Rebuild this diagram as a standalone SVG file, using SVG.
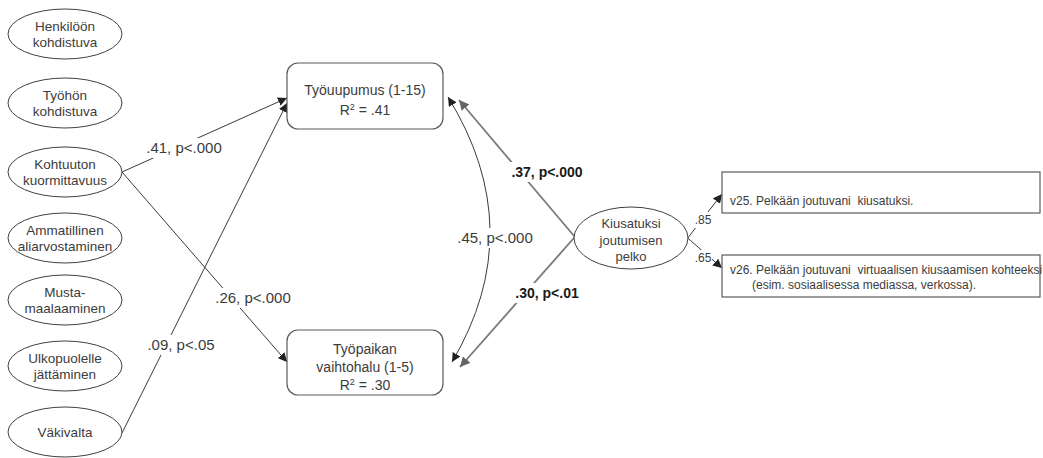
<svg xmlns="http://www.w3.org/2000/svg" width="1043" height="458" viewBox="0 0 1043 458">
<defs>
<style>
text{font-family:"Liberation Sans",Arial,sans-serif;fill:#3c3c3c}
.el{fill:#fff;stroke:#404040;stroke-width:1}
.bx{fill:#fff;stroke:#5a5a5a;stroke-width:1.2}
.rb{fill:#fff;stroke:#5a5a5a;stroke-width:1.2}
.t14{font-size:14px;text-anchor:middle}
.te{font-size:13.5px;text-anchor:middle}
.t13{font-size:13px;text-anchor:middle}
.t12{font-size:12px}
.lbl{font-size:15px;text-anchor:middle}
.bl{font-size:14px;font-weight:bold;text-anchor:middle;fill:#1a1a1a}
.ln{fill:none;stroke:#3a3a3a;stroke-width:1}
.lg{fill:none;stroke:#7a7a7a;stroke-width:1.8}
.bg{fill:#fff;stroke:none}
</style>
<marker id="ah" viewBox="0 0 10 10" refX="10" refY="5" markerWidth="9" markerHeight="9" markerUnits="userSpaceOnUse" orient="auto-start-reverse">
<path d="M0,0 L10,5 L0,10 z" fill="#222"/>
</marker>
<marker id="ahg" viewBox="0 0 10 10" refX="10" refY="5" markerWidth="10" markerHeight="10" markerUnits="userSpaceOnUse" orient="auto">
<path d="M0,0 L10,5 L0,10 z" fill="#666"/>
</marker>
</defs>
<rect width="1043" height="458" fill="#fff"/>

<g id="connectors">
<line class="ln" x1="122" y1="172" x2="287" y2="98" marker-end="url(#ah)"/>
<line class="ln" x1="122" y1="433" x2="287" y2="103" marker-end="url(#ah)"/>
<line class="ln" x1="122" y1="172" x2="287" y2="362" marker-end="url(#ah)"/>
<path class="ln" d="M448,97 Q530,230 452,362" marker-start="url(#ah)" marker-end="url(#ah)"/>
<line class="lg" x1="580" y1="243" x2="459" y2="100" marker-end="url(#ahg)"/>
<line class="lg" x1="581" y1="230" x2="460" y2="367" marker-end="url(#ahg)"/>
<line class="ln" x1="683" y1="244" x2="722" y2="194" marker-end="url(#ah)"/>
<line class="ln" x1="682" y1="233" x2="722" y2="268" marker-end="url(#ah)"/>
<g id="labels">
<rect class="bg" x="146" y="138" width="76" height="20"/>
<text class="lbl" x="184" y="153">.41, p&lt;.000</text>
<rect class="bg" x="215" y="288" width="76" height="20"/>
<text class="lbl" x="253" y="303">.26, p&lt;.000</text>
<rect class="bg" x="147" y="335" width="68" height="20"/>
<text class="lbl" x="181" y="350">.09, p&lt;.05</text>
<rect class="bg" x="457" y="228" width="76" height="20"/>
<text class="lbl" x="495" y="243">.45, p&lt;.000</text>
<rect class="bg" x="509" y="162" width="76" height="20"/>
<text class="bl" x="547" y="177">.37, p&lt;.000</text>
<rect class="bg" x="512" y="283" width="70" height="20"/>
<text class="bl" x="547" y="298">.30, p&lt;.01</text>
<rect class="bg" x="694" y="212" width="18" height="16"/>
<text class="t12" x="703" y="224" text-anchor="middle">.85</text>
<rect class="bg" x="694" y="250" width="18" height="16"/>
<text class="t12" x="703" y="262" text-anchor="middle">.65</text>
</g>
</g>

<g id="n-henkiloon"><ellipse class="el" cx="65" cy="34" rx="57" ry="25"/><text class="te" x="65" y="31">Henkilöön</text><text class="te" x="65" y="47">kohdistuva</text></g>
<g id="n-tyohon"><ellipse class="el" cx="65" cy="103" rx="57" ry="25"/><text class="te" x="65" y="100">Työhön</text><text class="te" x="65" y="116">kohdistuva</text></g>
<g id="n-kohtuuton"><ellipse class="el" cx="65" cy="172" rx="57" ry="25"/><text class="te" x="65" y="169">Kohtuuton</text><text class="te" x="65" y="185">kuormittavuus</text></g>
<g id="n-ammatillinen"><ellipse class="el" cx="65" cy="238" rx="57" ry="25"/><text class="te" x="65" y="235">Ammatillinen</text><text class="te" x="65" y="251">aliarvostaminen</text></g>
<g id="n-musta"><ellipse class="el" cx="65" cy="300" rx="57" ry="25"/><text class="te" x="65" y="297">Musta-</text><text class="te" x="65" y="313">maalaaminen</text></g>
<g id="n-ulkopuolelle"><ellipse class="el" cx="65" cy="366" rx="57" ry="25"/><text class="te" x="65" y="363">Ulkopuolelle</text><text class="te" x="65" y="379">jättäminen</text></g>
<g id="n-vakivalta"><ellipse class="el" cx="65" cy="432" rx="57" ry="25"/><text class="te" x="65" y="437">Väkivalta</text></g>

<g id="n-tyouupumus"><rect class="bx" x="287" y="63" width="156" height="66" rx="11"/><text class="t14" x="365" y="95">Työuupumus (1-15)</text><text class="t14" x="365" y="115">R<tspan font-size="9" dy="-5">2</tspan><tspan dy="5"> = .41</tspan></text></g>
<g id="n-tyopaikan"><rect class="bx" x="287" y="330" width="156" height="65" rx="11"/><text class="t14" x="365" y="354">Työpaikan</text><text class="t14" x="365" y="372">vaihtohalu (1-5)</text><text class="t14" x="365" y="390">R<tspan font-size="9" dy="-5">2</tspan><tspan dy="5"> = .30</tspan></text></g>
<g id="n-kiusatuksi"><ellipse class="el" cx="631" cy="238" rx="57" ry="31"/><text class="t13" x="631" y="227.5">Kiusatuksi</text><text class="t13" x="631" y="244.5">joutumisen</text><text class="t13" x="631" y="260.5">pelko</text></g>
<g id="n-v25"><rect class="rb" x="722" y="172" width="318" height="41"/><text class="t12" x="730" y="205" xml:space="preserve">v25. Pelkään joutuvani  kiusatuksi.</text></g>
<g id="n-v26"><rect class="rb" x="722" y="255" width="318" height="42"/><text class="t12" x="730" y="274" xml:space="preserve">v26. Pelkään joutuvani  virtuaalisen kiusaamisen kohteeksi</text><text class="t12" x="752" y="289">(esim. sosiaalisessa mediassa, verkossa).</text></g>
</svg>
